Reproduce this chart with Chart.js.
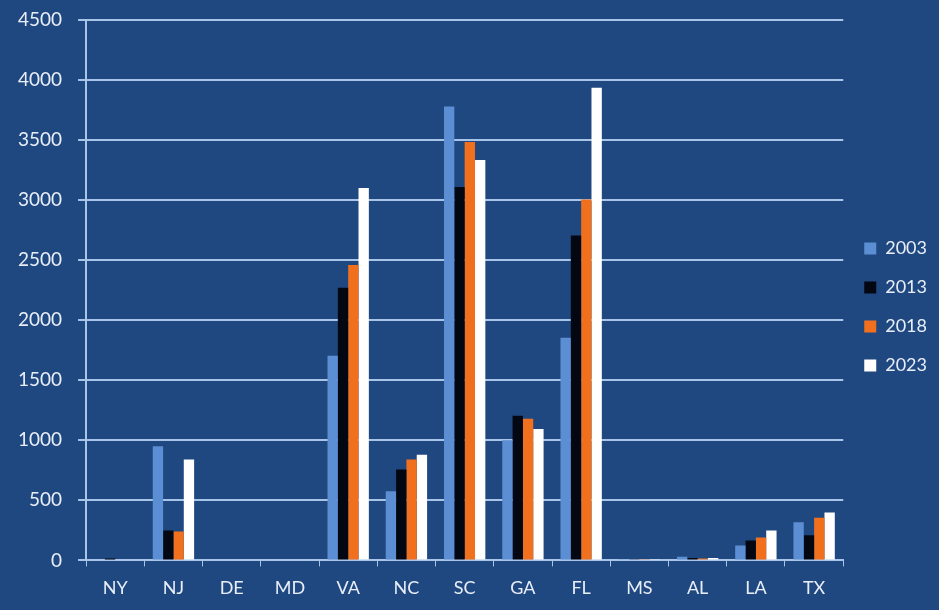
<!DOCTYPE html>
<html>
<head>
<meta charset="utf-8">
<script src="https://cdn.jsdelivr.net/npm/chart.js@4"></script>
<style>
  body { margin: 0; background: #204880; }
  #wrap { width: 939px; height: 610px; }
</style>
</head>
<body>
<div id="wrap"><canvas id="chart" width="939" height="610"></canvas></div>
<script>
const states = ["NY", "NJ", "DE", "MD", "VA", "NC", "SC", "GA", "FL", "MS", "AL", "LA", "TX"];
const years = ["2003", "2013", "2018", "2023"];
const v2003 = [0, 950, 0, 0, 1705, 575, 3780, 1000, 1855, 10, 30, 125, 318];
const v2013 = [15, 250, 0, 0, 2270, 757, 3110, 1205, 2705, 5, 20, 165, 210];
const v2018 = [0, 240, 0, 0, 2460, 840, 3485, 1180, 3005, 10, 15, 190, 355];
const v2023 = [0, 840, 0, 0, 3100, 880, 3335, 1095, 3935, 10, 20, 250, 398];
const yTicks = [0, 500, 1000, 1500, 2000, 2500, 3000, 3500, 4000, 4500];

const colors = ["#5b8ed2", "#030712", "#f0701e", "#ffffff"];
const gridColor = "#a8c4e8";
const textColor = "#e8eef8";

const series = [v2003, v2013, v2018, v2023];

new Chart(document.getElementById("chart"), {
  type: "bar",
  data: {
    labels: states,
    datasets: years.map((y, i) => ({
      label: y,
      data: series[i],
      backgroundColor: colors[i],
      borderWidth: 0,
      barPercentage: 1,
      categoryPercentage: 0.71
    }))
  },
  options: {
    responsive: false,
    animation: false,
    layout: { padding: { left: 2, top: 4, right: 2, bottom: 0 } },
    plugins: {
      legend: {
        position: "right",
        labels: {
          color: textColor,
          font: { family: "Lato", size: 18 },
          boxWidth: 12,
          boxHeight: 12,
          padding: 21
        }
      },
      tooltip: { enabled: false }
    },
    scales: {
      x: {
        grid: {
          drawOnChartArea: false,
          drawTicks: true,
          tickLength: 6,
          color: gridColor
        },
        border: { color: gridColor, width: 2 },
        ticks: { color: textColor, font: { family: "Lato", size: 18 }, padding: 11 }
      },
      y: {
        min: 0,
        max: 4500,
        afterBuildTicks: axis => { axis.ticks = yTicks.map(v => ({ value: v })); },
        // keep the top gridline close to the canvas edge
        afterFit: axis => { axis.paddingTop = 20; axis.paddingBottom = 0; },
        grid: { color: gridColor, lineWidth: 2, tickLength: 8 },
        border: { color: gridColor, width: 2 },
        ticks: {
          color: textColor,
          font: { family: "Lato", size: 19 },
          padding: 16,
          callback: v => String(v)
        }
      }
    }
  }
});
</script>
</body>
</html>
